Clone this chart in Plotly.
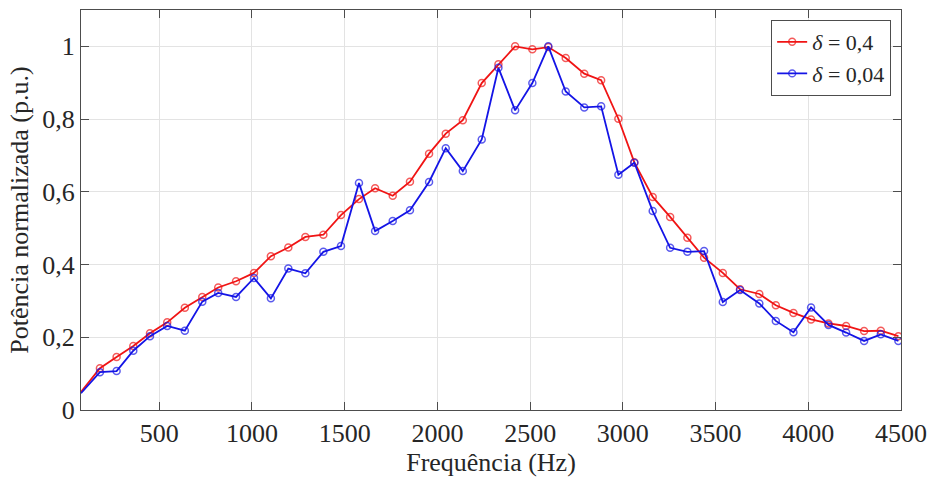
import plotly.graph_objects as go

# Frequency samples (Hz)
freq = [78, 180, 270, 360, 450, 543, 638, 732, 818, 914, 1011, 1102, 1196, 1288,
        1385, 1480, 1577, 1664, 1759, 1852, 1955, 2045, 2137, 2239, 2329, 2419,
        2512, 2598, 2692, 2792, 2883, 2976, 3062, 3161, 3255, 3348, 3438, 3539,
        3632, 3736, 3825, 3920, 4015, 4109, 4204, 4301, 4391, 4486]

# Normalised power, delta = 0.4
p_d04 = [0.050, 0.115, 0.146, 0.176, 0.211, 0.241, 0.281, 0.311, 0.337, 0.354,
         0.377, 0.423, 0.447, 0.476, 0.482, 0.536, 0.580, 0.610, 0.589, 0.628,
         0.705, 0.760, 0.797, 0.899, 0.951, 1.000, 0.992, 0.998, 0.968, 0.925,
         0.907, 0.801, 0.681, 0.586, 0.531, 0.474, 0.419, 0.377, 0.332, 0.319,
         0.288, 0.267, 0.249, 0.238, 0.231, 0.217, 0.218, 0.203]

# Normalised power, delta = 0.04
p_d004 = [0.046, 0.104, 0.107, 0.163, 0.203, 0.231, 0.218, 0.298, 0.322, 0.311,
          0.363, 0.307, 0.389, 0.376, 0.435, 0.451, 0.624, 0.492, 0.520, 0.549,
          0.627, 0.720, 0.657, 0.744, 0.941, 0.824, 0.899, 1.000, 0.876, 0.832,
          0.835, 0.647, 0.680, 0.547, 0.446, 0.435, 0.437, 0.297, 0.330, 0.293,
          0.245, 0.214, 0.282, 0.234, 0.213, 0.190, 0.208, 0.190]

x_ticks = [500, 1000, 1500, 2000, 2500, 3000, 3500, 4000, 4500]
y_ticks = [0, 0.2, 0.4, 0.6, 0.8, 1.0]
y_tick_labels = ["0", "0,2", "0,4", "0,6", "0,8", "1"]

series = [
    ("<i>δ</i> = 0,4", p_d04, "#f01414"),
    ("<i>δ</i> = 0,04", p_d004, "#1414e6"),
]

FONT = "Liberation Serif, Times New Roman, serif"
marker_sizes = [0] + [7] * (len(freq) - 1)

fig = go.Figure()
for name, vals, color in series:
    fig.add_trace(go.Scatter(
        x=freq, y=vals, name=name, mode="lines+markers",
        line=dict(color=color, width=1.8),
        marker=dict(symbol="circle-open", size=marker_sizes, color=color,
                    line=dict(width=1.5, color=color)),
    ))

axis_common = dict(
    showline=True, mirror="ticks", linecolor="#4d4d4d", linewidth=1.2,
    ticks="inside", ticklen=8, tickcolor="#4d4d4d", tickwidth=1,
    showgrid=True, gridcolor="#e3e3e3", gridwidth=1, zeroline=False,
    automargin=False,
    tickfont=dict(family=FONT, size=26, color="#262626"),
)

fig.update_layout(
    width=930, height=479,
    margin=dict(l=81, r=29, t=10, b=69),
    paper_bgcolor="white", plot_bgcolor="white",
    font=dict(family=FONT, color="#262626"),
    xaxis=dict(range=[78, 4500], tickvals=x_ticks,
               title=dict(text="Frequência (Hz)", font=dict(family=FONT, size=26),
                          standoff=4),
               **axis_common),
    yaxis=dict(range=[0, 1.1], tickvals=y_ticks, ticktext=y_tick_labels,
               title=dict(text="Potência normalizada (p.u.)",
                          font=dict(family=FONT, size=26), standoff=6),
               **axis_common),
    legend=dict(x=0.988, y=0.975, xanchor="right", yanchor="top",
                bgcolor="white", bordercolor="#4d4d4d", borderwidth=1,
                font=dict(family=FONT, size=22, color="#262626"),
                itemwidth=30, tracegroupgap=0),
    showlegend=True,
)

fig.write_html("out.html")
